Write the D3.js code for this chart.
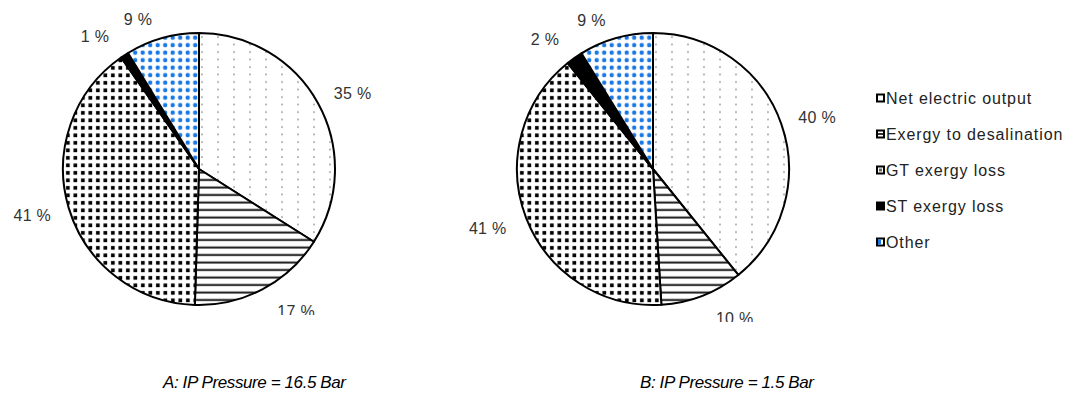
<!DOCTYPE html>
<html>
<head>
<meta charset="utf-8">
<script src="https://cdn.jsdelivr.net/npm/d3@7"></script>
<style>
  html, body { margin: 0; padding: 0; background: #fff; }
  svg { display: block; font-family: "Liberation Sans", Arial, sans-serif; }
</style>
</head>
<body>
<svg id="chart" width="1074" height="396"></svg>
<script>
// Exergy breakdown of the plant at two IP pressures (percent of input exergy)
const categories = ["Net electric output", "Exergy to desalination", "GT exergy loss", "ST exergy loss", "Other"];
const sharesA = [35, 17, 41, 1, 9];
const sharesB = [40, 10, 41, 2, 9];
const captions = ["A: IP Pressure = 16.5 Bar", "B: IP Pressure = 1.5 Bar"];

// Layout for the two pies
const panels = [
  { values: sharesA, caption: captions[0], cx: 199, cy: 169, clipBottom: 315, capX: 163,
    nudge: [[4, 1], [17, 3], [-3, 1], [-13, 0], [-16, 3]] },
  { values: sharesB, caption: captions[1], cx: 653, cy: 169, clipBottom: 322, capX: 640,
    nudge: [[3, 1], [20, 2], [-6, 2], [-12, -1], [-16, 3]] }
];
const radius = 136;
const labelRadius = 152;

const svg = d3.select("#chart");
const defs = svg.append("defs");

// Fill patterns for each category
const pNet = defs.append("pattern").attr("id", "pat-net").attr("patternUnits", "userSpaceOnUse")
  .attr("width", 16).attr("height", 7.5);
pNet.append("rect").attr("width", 16).attr("height", 7.5).attr("fill", "#fff");
pNet.append("circle").attr("cx", 3).attr("cy", 3).attr("r", 0.95).attr("fill", "#999");

const pDes = defs.append("pattern").attr("id", "pat-des").attr("patternUnits", "userSpaceOnUse")
  .attr("width", 8).attr("height", 7.5);
pDes.append("rect").attr("width", 8).attr("height", 7.5).attr("fill", "#fff");
pDes.append("rect").attr("y", 2.5).attr("width", 8).attr("height", 2).attr("fill", "#1a1a1a");

const pGt = defs.append("pattern").attr("id", "pat-gt").attr("patternUnits", "userSpaceOnUse")
  .attr("width", 7.5).attr("height", 7.5);
pGt.append("rect").attr("width", 7.5).attr("height", 7.5).attr("fill", "#fff");
pGt.append("rect").attr("x", 2).attr("y", 2).attr("width", 3.7).attr("height", 3.7).attr("fill", "#000");

const pOth = defs.append("pattern").attr("id", "pat-oth").attr("patternUnits", "userSpaceOnUse")
  .attr("width", 7.5).attr("height", 7.5);
pOth.append("rect").attr("width", 7.5).attr("height", 7.5).attr("fill", "#fff");
pOth.append("circle").attr("cx", 3.7).attr("cy", 3.7).attr("r", 2.2).attr("fill", "#1a78e6");

const fills = d3.scaleOrdinal()
  .domain(categories)
  .range(["url(#pat-net)", "url(#pat-des)", "url(#pat-gt)", "#000", "url(#pat-oth)"]);

const pie = d3.pie().sort(null).value(d => d);
const arc = d3.arc().innerRadius(0).outerRadius(radius);

panels.forEach((p, pi) => {
  const clipId = "clip-" + pi;
  defs.append("clipPath").attr("id", clipId)
    .append("rect").attr("x", p.cx - 220).attr("y", 0)
    .attr("width", 440).attr("height", p.clipBottom);

  const outer = svg.append("g").attr("clip-path", `url(#${clipId})`);
  const g = outer.append("g").attr("transform", `translate(${p.cx},${p.cy})`);
  const arcs = pie(p.values);

  g.selectAll("path.slice")
    .data(arcs)
    .join("path")
    .attr("class", "slice")
    .attr("d", arc)
    .attr("fill", (d, i) => fills(categories[i]))
    .attr("stroke", "#000")
    .attr("stroke-width", 2)
    .attr("stroke-linejoin", "round");

  // Percentage labels outside each slice
  g.selectAll("text.lbl")
    .data(arcs)
    .join("text")
    .attr("class", "lbl")
    .attr("text-anchor", "middle")
    .attr("dominant-baseline", "central")
    .attr("font-size", 16)
    .attr("letter-spacing", 0.3)
    .attr("fill", "#333")
    .text(d => d.data + " %")
    .each(function (d, i) {
      const w = this.getComputedTextLength();
      const h = 12;
      const a = (d.startAngle + d.endAngle) / 2;
      const s = Math.sin(a), c = -Math.cos(a);
      const x = labelRadius * s + (w / 2) * s + p.nudge[i][0];
      const y = labelRadius * c + (h / 2) * c + p.nudge[i][1];
      d3.select(this).attr("x", x).attr("y", y);
    });

  svg.append("text")
    .attr("x", p.capX)
    .attr("y", 388)
    .attr("font-size", 17)
    .attr("letter-spacing", -0.4)
    .attr("font-style", "italic")
    .attr("fill", "#000")
    .text(p.caption);
});

// Legend
const legendY = d3.scalePoint().domain(categories).range([98, 242]);
const legend = svg.append("g");
const items = legend.selectAll("g.item")
  .data(categories)
  .join("g")
  .attr("class", "item")
  .attr("transform", d => `translate(876,${legendY(d)})`);

items.append("rect")
  .attr("x", 0).attr("y", -4.5).attr("width", 9).attr("height", 9)
  .attr("fill", "#000");
items.filter((d, i) => i !== 3).append("rect")
  .attr("x", 2).attr("y", -2.5).attr("width", 5).attr("height", 5)
  .attr("fill", "#fff");
items.filter((d, i) => i === 1).append("rect")
  .attr("x", 2).attr("y", -0.8).attr("width", 5).attr("height", 1.6).attr("fill", "#000");
items.filter((d, i) => i === 2).append("rect")
  .attr("x", 3).attr("y", -1.5).attr("width", 3).attr("height", 3).attr("fill", "#666");
items.filter((d, i) => i === 4).append("rect")
  .attr("x", 2).attr("y", -2.5).attr("width", 3).attr("height", 5).attr("fill", "#1a78e6");

items.append("text")
  .attr("x", 10)
  .attr("y", 0)
  .attr("dominant-baseline", "central")
  .attr("font-size", 16)
  .attr("letter-spacing", 0.9)
  .attr("fill", "#222")
  .text(d => d);
</script>
</body>
</html>
